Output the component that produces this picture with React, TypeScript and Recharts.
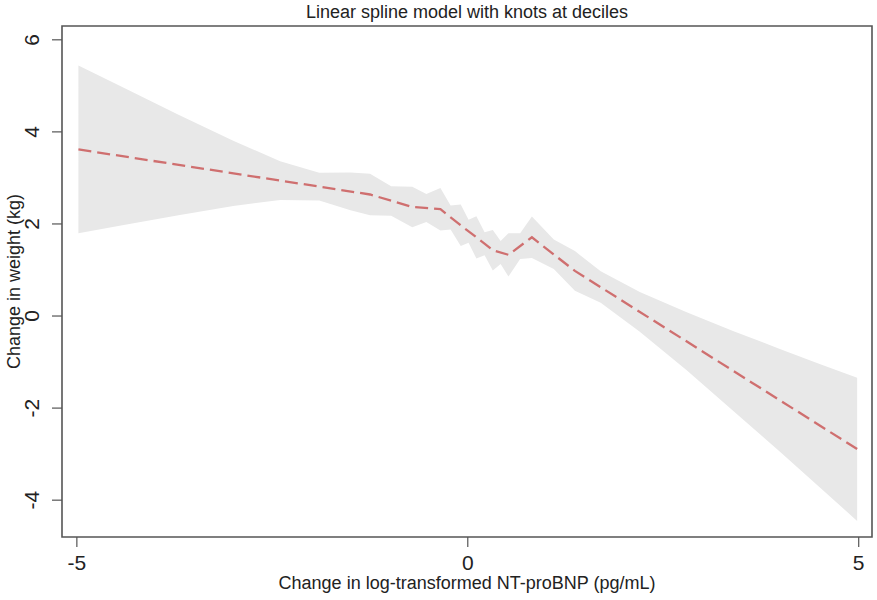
import { ComposedChart, Area, Line, XAxis, YAxis, ReferenceArea } from "recharts";

// confidence band
const bandX = [-4.98, -4.4, -3.7, -3.0, -2.4, -1.9, -1.5, -1.25, -0.98, -0.71, -0.53, -0.35, -0.22, -0.09, 0.01, 0.11, 0.215, 0.32, 0.42, 0.52, 0.67, 0.82, 1.1, 1.37, 1.7, 2.2, 2.8, 3.4, 4.0, 4.5, 4.98];
const bandLow = [1.8, 1.98, 2.19, 2.39, 2.52, 2.51, 2.3, 2.19, 2.18, 1.93, 2.04, 1.86, 1.88, 1.52, 1.59, 1.25, 1.32, 0.99, 1.13, 0.86, 1.24, 1.26, 1.02, 0.55, 0.29, -0.34, -1.18, -2.07, -2.96, -3.72, -4.45];
const bandHigh = [5.44, 4.96, 4.37, 3.81, 3.36, 3.11, 3.12, 3.09, 2.82, 2.81, 2.65, 2.78, 2.4, 2.42, 2.09, 2.17, 1.82, 1.87, 1.63, 1.8, 1.8, 2.16, 1.66, 1.41, 0.97, 0.52, 0.08, -0.33, -0.72, -1.04, -1.34];

// fitted linear spline (knots at deciles)
const knotX = [-4.98, -1.25, -0.71, -0.35, -0.09, 0.11, 0.32, 0.52, 0.82, 1.37, 4.98];
const fitY = [3.62, 2.64, 2.37, 2.32, 1.97, 1.71, 1.43, 1.33, 1.71, 0.98, -2.89];

const xTicks = [-5, 0, 5];
const yTicks = [-4, -2, 0, 2, 4, 6];

const bandData = bandX.map((x, i) => ({ x, band: [bandLow[i], bandHigh[i]] }));
const fitData = knotX.map((x, i) => ({ x, fit: fitY[i] }));

const font = "'Liberation Sans', Arial, Helvetica, sans-serif";
const ink = "#222";
const frame = "#555";

const XTick = (props: any) => {
  const { x, y, payload } = props;
  return (
    <text x={x} y={y} dy={21} textAnchor="middle" fontSize={21} fill={ink} fontFamily={font}>
      {payload.value}
    </text>
  );
};

const YTick = (props: any) => {
  const { x, y, payload } = props;
  return (
    <text
      transform={`translate(${x - 19},${y}) rotate(-90)`}
      textAnchor="middle"
      dominantBaseline="central"
      fontSize={21}
      fill={ink}
      fontFamily={font}
    >
      {payload.value}
    </text>
  );
};

const XLabel = (props: any) => {
  const vb = props.viewBox;
  return (
    <text x={vb.x + vb.width / 2} y={vb.y + 52} textAnchor="middle" fontSize={18} fill={ink} fontFamily={font}>
      Change in log-transformed NT-proBNP (pg/mL)
    </text>
  );
};

const YLabel = (props: any) => {
  const vb = props.viewBox;
  return (
    <text
      transform={`translate(14,${vb.y + vb.height / 2}) rotate(-90)`}
      textAnchor="middle"
      dominantBaseline="central"
      fontSize={18}
      fill={ink}
      fontFamily={font}
    >
      Change in weight (kg)
    </text>
  );
};

export default function App() {
  return (
    <div style={{ position: "absolute", left: 0, top: 0, width: 877, height: 600, background: "#fff" }}>
      <div
        style={{
          position: "absolute",
          left: 267,
          top: 3,
          width: 400,
          textAlign: "center",
          fontFamily: font,
          fontSize: 18,
          lineHeight: "18px",
          color: ink,
        }}
      >
        Linear spline model with knots at deciles
      </div>
      <ComposedChart width={877} height={600} margin={{ top: 26, right: 5, bottom: 0, left: 0 }}>
        <XAxis
          type="number"
          dataKey="x"
          domain={[-5.19, 5.17]}
          ticks={xTicks}
          allowDataOverflow
          height={63}
          axisLine={false}
          tickLine={{ stroke: frame, strokeWidth: 1.2 }}
          tickSize={10}
          tick={<XTick />}
          label={<XLabel />}
        />
        <YAxis
          type="number"
          domain={[-4.8, 6.3]}
          ticks={yTicks}
          allowDataOverflow
          width={62}
          axisLine={false}
          tickLine={{ stroke: frame, strokeWidth: 1.2 }}
          tickSize={10}
          tick={<YTick />}
          label={<YLabel />}
        />
        <Area
          data={bandData}
          dataKey="band"
          type="linear"
          stroke="none"
          fill="#e8e8e8"
          fillOpacity={1}
          isAnimationActive={false}
        />
        <Line
          data={fitData}
          dataKey="fit"
          type="linear"
          stroke="#cf6f6f"
          strokeWidth={2.3}
          strokeDasharray="13 6"
          dot={false}
          isAnimationActive={false}
        />
        <ReferenceArea x1={-5.19} x2={5.17} y1={-4.8} y2={6.3} fill="none" stroke={frame} strokeWidth={1.6} />
      </ComposedChart>
    </div>
  );
}
